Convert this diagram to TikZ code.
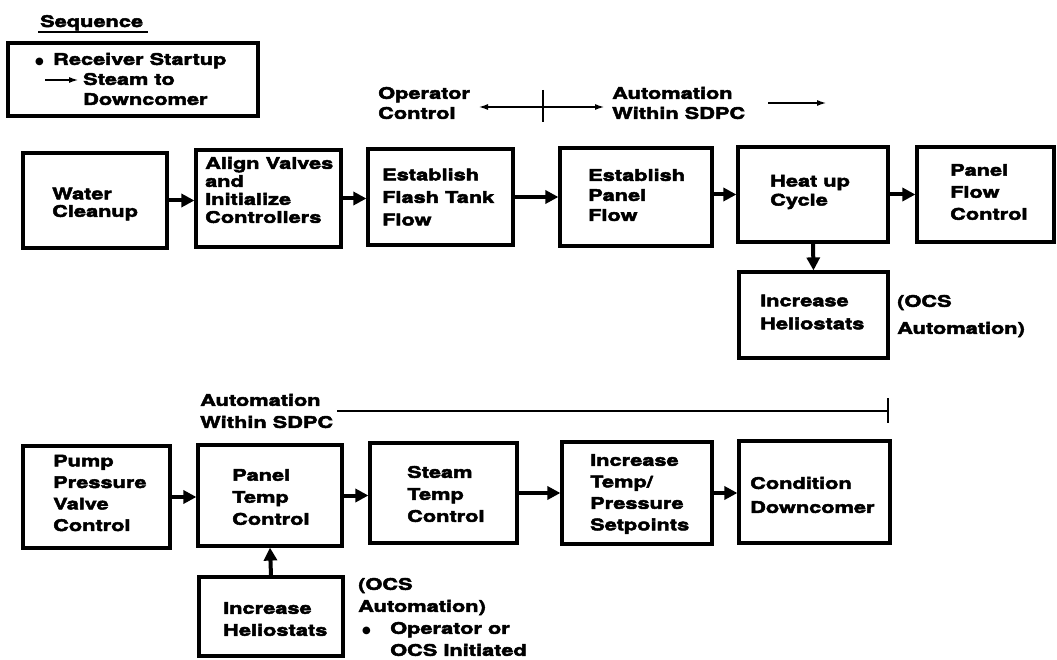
\documentclass[tikz,border=0pt]{standalone}
\usepackage{fontspec}
\setmainfont{TeX Gyre Heros}[FakeStretch=1.36, FakeBold=3]
\newfontfamily\symfont{DejaVu Sans}
\newcommand{\bul}{{\symfont\fontsize{10}{10}\selectfont ●}}
\usetikzlibrary{arrows.meta}
\begin{document}
\begin{tikzpicture}[x=1pt,y=-1pt,
  box/.style={draw, line width=3.2pt, inner sep=0pt, rectangle},
  lbl/.style={align=left, inner sep=0pt, anchor=west, font=\bfseries\fontsize{16}{#1}\selectfont},
  lbl/.default=21,
  conn/.style={line width=4pt, -{Triangle[length=13pt,width=13pt]}},
  rangeline/.style={line width=2.2pt},
  rangearrow/.style={line width=2.2pt, {Latex[length=10pt,width=6pt]}-{Latex[length=10pt,width=6pt]}},
  onearrow/.style={line width=2.2pt, -{Latex[length=10pt,width=6pt]}}
]
\useasboundingbox (0,0) rectangle (1057,660);

% sequence legend
\node[lbl, anchor=base west] (seq) at (40,27) {Sequence};
\draw[line width=1.8pt] (38,32) coordinate (ul1) -- (148,32) coordinate (ul2);
\node[box, minimum width=250pt, minimum height=73pt] (seqbox) at (133,79.5) {};
\node[lbl=20] (seqtxt) at (35,79) {\makebox[18pt][l]{\bul}Receiver Startup\\\hspace*{48pt}Steam to\\\hspace*{48pt}Downcomer};
\coordinate (sa1) at (45,80);
\coordinate (sa2) at (79,80);
\draw[onearrow] (sa1) -- (sa2);

% top labels
\node[lbl=20] (opctl) at (378,103) {Operator\\Control};
\coordinate (opL) at (478,107);
\coordinate (opR) at (605,107);
\draw[rangearrow] (opL) -- (opR);
\coordinate (opT1) at (543,90);
\coordinate (opT2) at (543,122);
\draw[rangeline] (opT1) -- (opT2);
\node[lbl=20] (auto1) at (612,103) {Automation\\Within SDPC};
\coordinate (aA) at (768,103);
\coordinate (aB) at (827,103);
\draw[onearrow] (aA) -- (aB);

% row 1 boxes
\node[box, minimum width=144pt, minimum height=95pt] (b1) at (95,200.5) {};
\node[box, minimum width=145pt, minimum height=97pt] (b2) at (268.5,198.5) {};
\node[box, minimum width=145pt, minimum height=96pt] (b3) at (440.5,197) {};
\node[box, minimum width=152pt, minimum height=98pt] (b4) at (636,197) {};
\node[box, minimum width=150pt, minimum height=95pt] (b5) at (813,194.5) {};
\node[box, minimum width=137pt, minimum height=95pt] (b6) at (985.5,194.5) {};
\node[box, minimum width=149pt, minimum height=86pt] (b7) at (813.5,315) {};

\node[lbl=17.5] (t1) at (52,204) {Water\\Cleanup};
\node[lbl=18] (t2) at (205,190) {Align Valves\\and\\Initialize\\Controllers};
\node[lbl=22.5] (t3) at (382,197) {Establish\\Flash Tank\\Flow};
\node[lbl=20] (t4) at (588,195) {Establish\\Panel\\Flow};
\node[lbl=19] (t5) at (770,192) {Heat up\\Cycle};
\node[lbl=22] (t6) at (950,192) {Panel\\Flow\\Control};
\node[lbl=23] (t7) at (760,312) {Increase\\Heliostats};
\node[lbl=27] (t8) at (897,316) {(OCS\\Automation)};

\draw[conn] (b1.east) -- (b1.east -| b2.west);
\draw[conn] (b2.east) -- (b2.east -| b3.west);
\draw[conn] (b3.east) -- (b3.east -| b4.west);
\draw[conn] (b5.west -| b4.east) -- (b5.west);
\draw[conn] (b5.east) -- (b5.east -| b6.west);
\draw[conn] (b5.south) -- (b7.north);

% row 2
\node[lbl=22] (auto2) at (200,411) {Automation\\Within SDPC};
\coordinate (rL) at (337,411);
\coordinate (rR) at (888,411);
\coordinate (rT1) at (888,398);
\coordinate (rT2) at (888,423);
\draw[rangeline] (rL) -- (rR);
\draw[rangeline] (rT1) -- (rT2);

\node[box, minimum width=147pt, minimum height=102pt] (b8) at (96.5,497) {};
\node[box, minimum width=144pt, minimum height=101pt] (b9) at (270,495.5) {};
\node[box, minimum width=147pt, minimum height=100pt] (b10) at (443.5,493) {};
\node[box, minimum width=150pt, minimum height=102pt] (b11) at (637,493) {};
\node[box, minimum width=151pt, minimum height=102pt] (b12) at (814.5,492) {};
\node[box, minimum width=144pt, minimum height=79pt] (b13) at (271,616.5) {};

\node[lbl=21.5] (t9) at (53,493) {Pump\\Pressure\\Valve\\Control};
\node[lbl=22] (t10) at (232,497) {Panel\\Temp\\Control};
\node[lbl=22] (t11) at (407,494) {Steam\\Temp\\Control};
\node[lbl=21.5] (t12) at (590,494) {Increase\\Temp/\\Pressure\\Setpoints};
\node[lbl=24] (t13) at (750,495) {Condition\\Downcomer};
\node[lbl=22] (t14) at (223,619) {Increase\\Heliostats};
\node[lbl=22] (t15) at (358,617) {(OCS\\Automation)\\\makebox[32pt][l]{\hspace*{4pt}\bul}Operator or\\\hspace*{32pt}OCS Initiated};

\draw[conn] (b8.east) -- (b8.east -| b9.west);
\draw[conn] (b9.east) -- (b9.east -| b10.west);
\draw[conn] (b10.east) -- (b10.east -| b11.west);
\draw[conn] (b11.east) -- (b11.east -| b12.west);
\draw[conn] (b13.north) -- (b9.south);
\end{tikzpicture}
\end{document}
